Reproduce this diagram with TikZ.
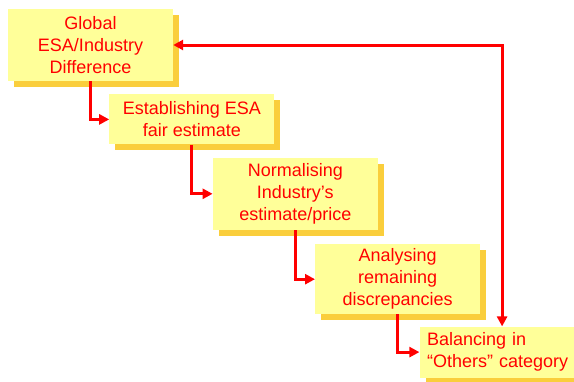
\documentclass[tikz,border=0pt]{standalone}
\usepackage{fontspec}
\setmainfont{Liberation Sans}
\usepackage{tikz}
\usetikzlibrary{arrows.meta, positioning, shadows}
\definecolor{stepyellow}{RGB}{255, 255, 153}
\definecolor{stepgold}{RGB}{250, 206, 60}
\definecolor{stepred}{RGB}{255, 0, 0}

\begin{document}
\begin{tikzpicture}[
    x=1pt, y=-1pt,
    stepbox/.style={rectangle, fill=stepyellow, text=stepred,
                    minimum width=165pt, minimum height=72pt,
                    inner sep=0pt, align=center,
                    font=\fontsize{18}{22}\selectfont,
                    drop shadow={shadow xshift=6pt, shadow yshift=-6pt,
                                 fill=stepgold, opacity=1}},
    arr/.style={-{Triangle[length=10pt, width=10pt]}, line width=3pt, stepred},
    twoway/.style={arr, {Triangle[length=10pt, width=10pt]}-{Triangle[length=10pt, width=10pt]}}
]
\useasboundingbox (0,0) rectangle (574,381);
\clip (0,0) rectangle (574,381);
\node[stepbox] (global) at (90.5,45) {Global\\ESA/Industry\\Difference};
\node[stepbox, minimum height=50pt, below right=13pt and -64pt of global] (fair) {Establishing ESA\\fair estimate};
\node[stepbox, below right=13pt and -62pt of fair] (norm) {Normalising\\Industry’s\\estimate/price};
\node[stepbox, minimum height=70pt, below right=14pt and -63pt of norm] (disc) {Analysing\\remaining\\discrepancies};
\node[stepbox, minimum height=51pt, text width=150pt, align=left,
      below right=12pt and -61pt of disc] (others) {Balancing in\\“Others” category};

\draw[arr] (global.south) |- (fair.west);
\draw[arr] (fair.south)   |- (norm.west);
\draw[arr] (norm.south)   |- (disc.west);
\draw[arr] (disc.south)   |- (others.west);
\draw[twoway] (others.north) |- (global.east);
\end{tikzpicture}
\end{document}
